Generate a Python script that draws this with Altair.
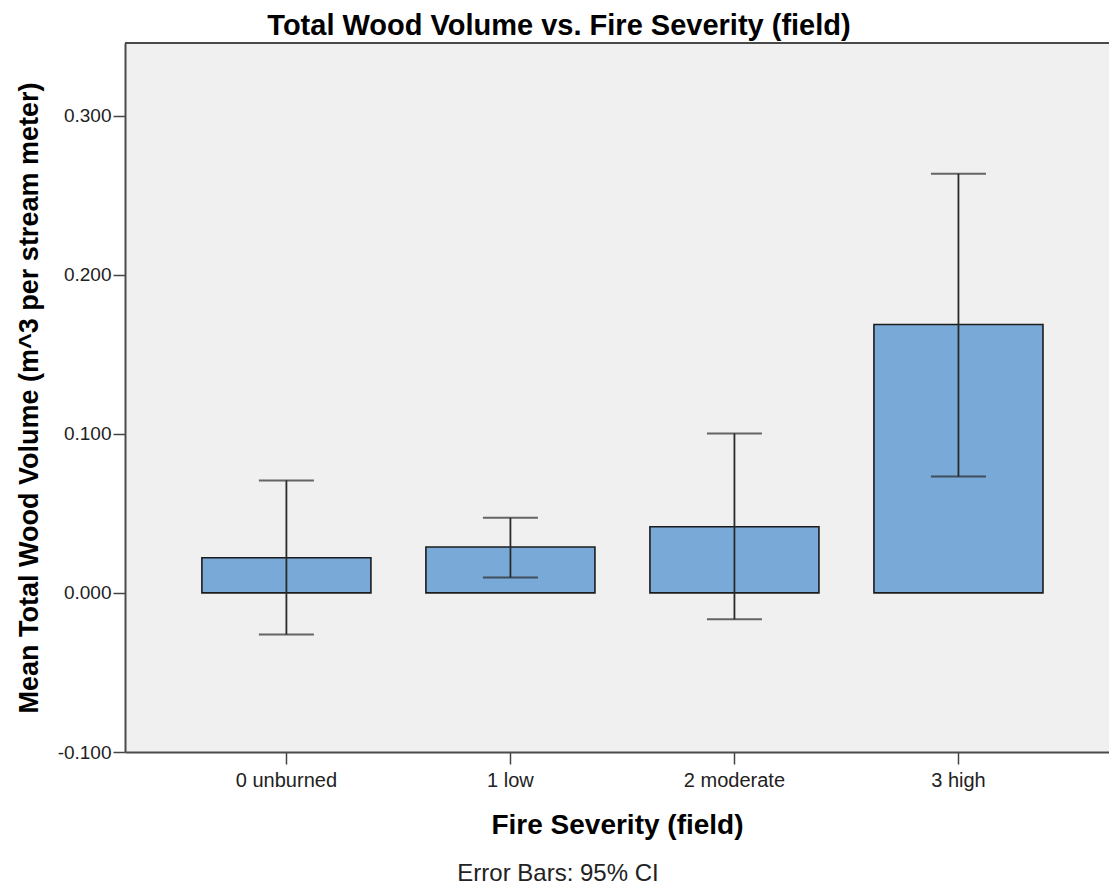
import altair as alt
import pandas as pd

categories = ["0 unburned", "1 low", "2 moderate", "3 high"]
means = [0.0221, 0.0288, 0.0416, 0.1687]
ci_low = [-0.0261, 0.0097, -0.0166, 0.0732]
ci_high = [0.0707, 0.0472, 0.1002, 0.2635]
y_ticks = [-0.1, 0.0, 0.1, 0.2, 0.3]

df = pd.DataFrame({"cat": categories, "mean": means, "lo": ci_low, "hi": ci_high})

FONT = "Liberation Sans"
W, H = 984, 709

xenc = alt.X(
    "cat:N",
    sort=categories,
    scale=alt.Scale(paddingInner=0.2455, paddingOuter=0.319, align=0.538),
    axis=alt.Axis(
        title="Fire Severity (field)",
        titleFontSize=28,
        titleFontWeight="bold",
        titleColor="#000000",
        titlePadding=21,
        labelFontSize=20,
        labelColor="#222222",
        labelPadding=6,
        labelAngle=0,
        tickSize=12,
        tickWidth=1.5,
        tickColor="#444444",
        domainColor="#4a4a4a",
        domainWidth=2,
        grid=False,
    ),
)
yscale = alt.Scale(domain=[-0.1, 0.3456], nice=False, zero=False)
yaxis = alt.Axis(
    title="Mean Total Wood Volume (m^3 per stream meter)",
    titleFontSize=27,
    titleFontWeight="bold",
    titleColor="#000000",
    titlePadding=14,
    values=y_ticks,
    labelExpr="datum.value < 0 ? '-' + format(-datum.value, '.3f') : format(datum.value, '.3f')",
    labelFontSize=19,
    labelColor="#222222",
    labelPadding=2,
    tickSize=12,
    tickWidth=1.5,
    tickColor="#444444",
    domainColor="#4a4a4a",
    domainWidth=2,
    grid=False,
)

base = alt.Chart(df)

bars = base.mark_bar(color="#79a9d6", stroke="#1c1c1c", strokeWidth=1.6).encode(
    x=xenc,
    y=alt.Y("mean:Q", scale=yscale, axis=yaxis),
)

err = base.mark_rule(color="#2a2a2a", strokeWidth=1.8).encode(
    x=alt.X("cat:N", sort=categories),
    y=alt.Y("lo:Q"),
    y2="hi:Q",
)

cap_lo = base.mark_tick(color="#2a2a2a", orient="horizontal", size=55, thickness=2).encode(
    x=alt.X("cat:N", sort=categories),
    y=alt.Y("lo:Q"),
)
cap_hi = base.mark_tick(color="#2a2a2a", orient="horizontal", size=55, thickness=2).encode(
    x=alt.X("cat:N", sort=categories),
    y=alt.Y("hi:Q"),
)

top_line = alt.Chart(pd.DataFrame({"a": [0]})).mark_rule(color="#4a4a4a", strokeWidth=2).encode(
    x=alt.value(0), x2=alt.value(W), y=alt.value(0)
)

note = alt.Chart(pd.DataFrame({"t": ["Error Bars: 95% CI"]})).mark_text(
    fontSize=24, font=FONT, color="#222222", baseline="alphabetic", align="center"
).encode(text="t:N", x=alt.value(433), y=alt.value(838))

chart = (
    alt.layer(bars, err, cap_lo, cap_hi, top_line, note)
    .properties(
        width=W,
        height=H,
        autosize=alt.AutoSizeParams(type="none"),
        padding={"left": 117, "top": 35, "right": 0, "bottom": 134},
        title=alt.TitleParams(
            "Total Wood Volume vs. Fire Severity (field)",
            fontSize=29,
            fontWeight="bold",
            color="#000000",
            anchor="middle",
            dx=-58,
            offset=1,
            font=FONT,
        ),
        background="#ffffff",
    )
    .configure(font=FONT)
    .configure_view(fill="#f0f0f0", stroke=None)
)

chart.save("out.html", embed_options={"renderer": "svg", "actions": False})
